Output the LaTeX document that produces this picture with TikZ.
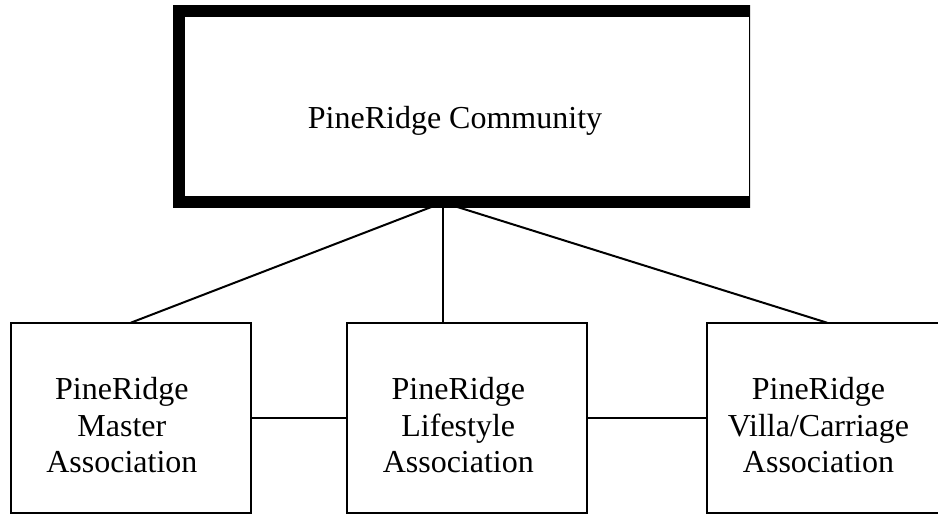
\documentclass[tikz,border=0pt]{standalone}
\usepackage{fontspec}
\setmainfont{Liberation Serif}
\usetikzlibrary{calc,positioning}

\tikzset{
  topbox/.style={draw, line width=12pt, minimum width=575.7pt, minimum height=191.5pt, inner sep=0pt, outer sep=0pt},
  orgbox/.style={draw, line width=2pt, minimum width=240pt, minimum height=190.6pt, inner sep=0pt, outer sep=0pt},
  orgtext/.style={align=center, inner sep=0pt, font=\fontsize{32}{36.7}\selectfont},
  link/.style={line width=2pt}
}

\begin{document}
\begin{tikzpicture}[x=1pt,y=1pt]
        \fill[white] (0,0) rectangle (938,-516);
        \useasboundingbox (0,0) rectangle (938,-516);

        % top box, its right side is cut off
        \begin{scope}
          \clip (0,0) rectangle (750,-516);
          \node[topbox] (community) at (466.85,-106.75) {};
        \end{scope}
        \node[orgtext] (communitytext) at (455,-120.6) {PineRidge Community};

        % the three associations
        \node[orgbox] (master) at (130.85,-418) {};
        \node[orgbox] (lifestyle) at (467,-418) {};
        \node[orgbox] (villa) at (827,-418) {};

        \node[orgtext] (mastertext) at ([xshift=-9pt,yshift=-7.3pt]master.center) {PineRidge\\Master\\Association};
        \node[orgtext] (lifestyletext) at ([xshift=-8.7pt,yshift=-7.3pt]lifestyle.center) {PineRidge\\Lifestyle\\Association};
        \node[orgtext] (villatext) at ([xshift=-8.5pt,yshift=-7.3pt]villa.center) {PineRidge\\Villa/Carriage\\Association};

        % links
        \coordinate (hub) at ([xshift=-23.85pt]community.south);
        \coordinate (lifetop) at (hub |- lifestyle.north);
        \draw[link] (hub) -- (master.north);
        \draw[link] (hub) -- (lifetop);
        \draw[link] (hub) -- (villa.north);
        \draw[link] (master.east) -- (lifestyle.west);
        \draw[link] (lifestyle.east) -- (villa.west);

    \end{tikzpicture}
\end{document}
